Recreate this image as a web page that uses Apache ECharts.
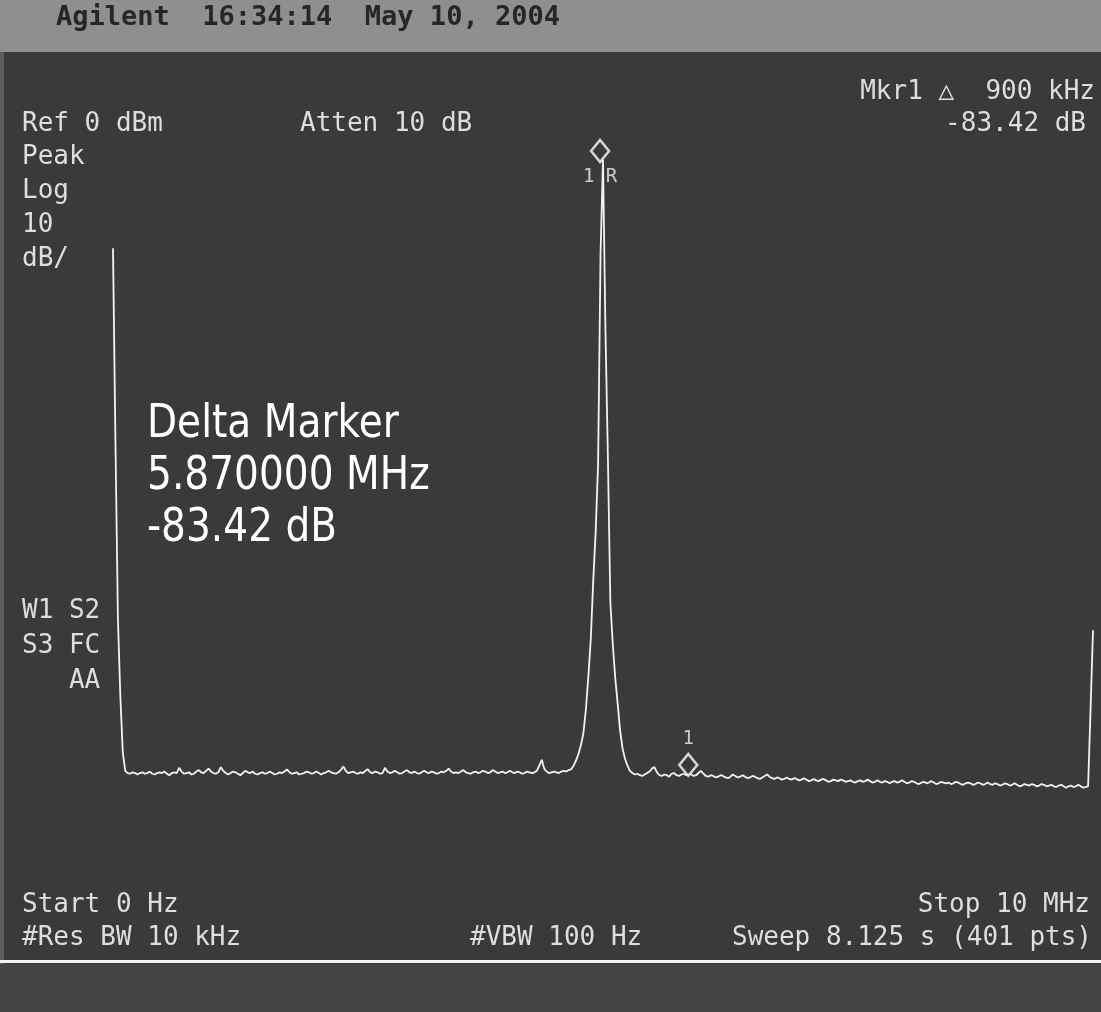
<!DOCTYPE html>
<html>
<head>
<meta charset="utf-8">
<title>Agilent spectrum trace</title>
<script src="https://cdn.jsdelivr.net/npm/echarts/dist/echarts.min.js"></script>
<style>
  html, body { margin: 0; padding: 0; background: #3a3a3a; }
  #chart { width: 1101px; height: 1012px; }
</style>
</head>
<body>
<div id="chart"></div>
<script>
// Sweep settings
const startMHz = 0;
const stopMHz = 10;
const sweepPoints = 401;
const refLevelDbm = 0;
const dbPerDiv = 10;
const divisions = 10;

// Trace amplitude, dBm, one value per sweep point (25 kHz apart)
const traceDbm = [
  -14.3, -40.6, -64.5, -75.2, -82.8, -85.3, -85.6, -85.7, -85.5, -85.6, -85.8, -85.6, -85.5, -85.7, -85.6, -85.4, -85.7, -85.8, -85.6, -85.5,
  -85.6, -85.4, -85.7, -85.9, -85.6, -85.5, -85.6, -84.9, -85.4, -85.7, -85.6, -85.5, -85.8, -85.7, -85.4, -85.2, -85.5, -85.6, -85.3, -85.0,
  -85.4, -85.6, -85.7, -85.5, -84.8, -85.3, -85.6, -85.8, -85.6, -85.4, -85.5, -85.7, -85.9, -85.6, -85.3, -85.5, -85.6, -85.4, -85.7, -85.8,
  -85.6, -85.5, -85.7, -85.6, -85.4, -85.6, -85.8, -85.7, -85.5, -85.6, -85.4, -85.1, -85.5, -85.7, -85.6, -85.5, -85.8, -85.7, -85.6, -85.4,
  -85.5, -85.7, -85.6, -85.4, -85.6, -85.8, -85.6, -85.5, -85.3, -85.5, -85.6, -85.7, -85.5, -85.2, -84.7, -85.3, -85.6, -85.5, -85.4, -85.6,
  -85.7, -85.5, -85.6, -85.3, -85.1, -85.5, -85.6, -85.4, -85.5, -85.7, -85.6, -84.9, -85.4, -85.6, -85.5, -85.3, -85.5, -85.7, -85.6, -85.4,
  -85.2, -85.5, -85.6, -85.4, -85.6, -85.7, -85.5, -85.3, -85.5, -85.6, -85.4, -85.5, -85.7, -85.6, -85.4, -85.5, -85.3, -85.0, -85.4, -85.6,
  -85.5, -85.6, -85.4, -85.2, -85.5, -85.6, -85.7, -85.5, -85.4, -85.6, -85.5, -85.3, -85.4, -85.6, -85.5, -85.2, -85.4, -85.6, -85.5, -85.4,
  -85.6, -85.5, -85.3, -85.5, -85.6, -85.4, -85.5, -85.7, -85.6, -85.4, -85.5, -85.6, -85.5, -85.3, -84.6, -83.8, -85.0, -85.4, -85.6, -85.5,
  -85.4, -85.5, -85.6, -85.4, -85.3, -85.4, -85.2, -85.1, -84.6, -83.9, -83.0, -81.8, -80.2, -77.0, -72.6, -67.5, -59.6, -52.9, -43.5, -15.0,
  -2.3, -25.4, -42.7, -62.4, -68.1, -72.7, -76.2, -79.9, -82.3, -83.7, -84.6, -85.3, -85.6, -85.8, -85.7, -85.9, -86.0, -85.8, -85.6, -85.4,
  -85.0, -84.8, -85.5, -85.9, -86.0, -85.8, -85.9, -86.1, -85.7, -85.6, -85.9, -86.0, -85.8, -85.7, -85.9, -85.72, -85.8, -86.0, -85.9, -85.6,
  -85.3, -85.7, -86.0, -86.1, -85.9, -86.0, -86.2, -86.1, -85.9, -86.0, -86.2, -86.3, -86.1, -85.8, -86.0, -86.2, -86.1, -85.9, -86.1, -86.3,
  -86.2, -86.0, -86.1, -86.3, -86.4, -86.2, -86.0, -85.8, -86.1, -86.3, -86.4, -86.2, -86.3, -86.5, -86.4, -86.2, -86.4, -86.5, -86.3, -86.4,
  -86.6, -86.5, -86.3, -86.5, -86.7, -86.6, -86.4, -86.6, -86.7, -86.5, -86.4, -86.6, -86.8, -86.7, -86.5, -86.6, -86.7, -86.5, -86.6, -86.8,
  -86.7, -86.6, -86.8, -86.9, -86.7, -86.6, -86.8, -86.7, -86.5, -86.7, -86.9, -86.8, -86.6, -86.8, -86.9, -86.7, -86.8, -87.0, -86.8, -86.7,
  -86.9, -86.8, -86.6, -86.8, -87.0, -86.9, -86.7, -86.8, -87.0, -87.1, -86.9, -86.8, -87.0, -86.9, -86.7, -86.9, -87.1, -87.0, -86.8, -86.9,
  -87.0, -86.9, -87.1, -87.0, -86.8, -86.9, -87.1, -87.2, -87.0, -86.9, -87.0, -87.2, -87.1, -86.9, -87.0, -87.2, -87.1, -86.9, -87.1, -87.2,
  -87.0, -87.1, -87.3, -87.2, -87.0, -87.1, -87.3, -87.2, -87.0, -87.2, -87.4, -87.3, -87.1, -87.2, -87.3, -87.1, -87.2, -87.4, -87.3, -87.1,
  -87.2, -87.4, -87.3, -87.2, -87.4, -87.5, -87.3, -87.2, -87.4, -87.6, -87.4, -87.3, -87.5, -87.4, -87.2, -87.4, -87.6, -87.5, -87.4, -77.0,
  -66.2
];

// Markers: reference (1R) and delta (1)
const markerFreqMHz = [4.97, 5.87];
const markerRefDbm = -2.3;
const markerDeltaDb = -83.42;
const markerNames = ['1 R', '1'];

// Screen annotations
const headerText = 'Agilent  16:34:14  May 10, 2004';
const leftColumn = ['Peak', 'Log', '10', 'dB/'];
const statusColumn = ['W1 S2', 'S3 FC', '   AA'];
const deltaReadout = ['Delta Marker', '5.870000 MHz', '-83.42 dB'];

const stepMHz = (stopMHz - startMHz) / (sweepPoints - 1);
const tracePoints = traceDbm.map((v, i) => [startMHz + i * stepMHz, v]);
const markerLevels = [markerRefDbm, markerRefDbm + markerDeltaDb];

const MONO = '"DejaVu Sans Mono", monospace';
const annoColor = '#dedede';

function anno(text, x, y, align, size, color, weight) {
  return {
    type: 'text',
    x: x, y: y,
    silent: true,
    style: {
      x: 0, y: 0,
      text: text,
      fill: color || annoColor,
      font: (weight || 'normal') + ' ' + (size || 26) + 'px ' + MONO,
      textAlign: align || 'left',
      textVerticalAlign: 'middle'
    }
  };
}

const graphics = [
  { type: 'rect', shape: { x: 0, y: 0, width: 1101, height: 52 }, style: { fill: '#8f8f8f' }, silent: true, z: -1 },
  { type: 'rect', shape: { x: 0, y: 52, width: 4, height: 960 }, style: { fill: '#5c5c5c' }, silent: true, z: -1 },
  { type: 'rect', shape: { x: 0, y: 964, width: 1101, height: 48 }, style: { fill: '#444444' }, silent: true, z: -1 },
  { type: 'rect', shape: { x: 0, y: 960, width: 1101, height: 3 }, style: { fill: '#f4f4f4' }, silent: true },
  anno(headerText, 56, 18, 'left', 27, '#262626', 'bold'),
  anno('Ref ' + refLevelDbm + ' dBm', 22, 124),
  anno('Atten 10 dB', 300, 124),
  anno('Mkr1 \u25B3  900 kHz', 1095, 92, 'right'),
  anno(markerDeltaDb.toFixed(2) + ' dB', 1086, 124, 'right'),
  anno('Start ' + startMHz + ' Hz', 22, 905),
  anno('Stop ' + stopMHz + ' MHz', 1090, 905, 'right'),
  anno('#Res BW 10 kHz', 22, 938),
  anno('#VBW 100 Hz', 470, 938),
  anno('Sweep 8.125 s (' + sweepPoints + ' pts)', 1092, 938, 'right')
];
leftColumn.forEach((t, i) => graphics.push(anno(t, 22, 157 + i * 34)));
statusColumn.forEach((t, i) => graphics.push(anno(t, 22, 611 + i * 35)));
deltaReadout.forEach((t, i) => graphics.push({
  type: 'text',
  x: 147, y: 425 + i * 52,
  scaleX: 0.85,
  silent: true,
  style: {
    x: 0, y: 0,
    text: t,
    fill: '#ffffff',
    font: '46px "DejaVu Sans", sans-serif',
    textAlign: 'left',
    textVerticalAlign: 'middle'
  }
}));

const chart = echarts.init(document.getElementById('chart'), null, { renderer: 'canvas' });
chart.setOption({
  backgroundColor: '#3a3a3a',
  animation: false,
  grid: { left: 113, right: 8, top: 143, bottom: 133 },
  xAxis: {
    type: 'value', min: startMHz, max: stopMHz,
    axisLine: { show: false }, axisTick: { show: false },
    axisLabel: { show: false }, splitLine: { show: false }
  },
  yAxis: {
    type: 'value', min: refLevelDbm - dbPerDiv * divisions, max: refLevelDbm,
    interval: dbPerDiv,
    axisLine: { show: false }, axisTick: { show: false },
    axisLabel: { show: false }, splitLine: { show: false }
  },
  graphic: graphics,
  series: [
    {
      type: 'line',
      data: tracePoints,
      showSymbol: false,
      clip: false,
      lineStyle: { color: '#f2f2f2', width: 1.8 },
      z: 3
    },
    {
      type: 'scatter',
      symbol: 'diamond',
      symbolSize: [18, 22],
      symbolOffset: [0, -9],
      itemStyle: { color: '#3a3a3a', borderColor: '#ffffff', borderWidth: 2.5 },
      z: 4,
      data: markerFreqMHz.map((f, i) => ({
        value: [f, markerLevels[i]],
        label: {
          show: true,
          formatter: markerNames[i],
          position: i === 0 ? 'bottom' : 'top',
          distance: i === 0 ? 4 : 4,
          color: '#f0f0f0',
          fontFamily: 'DejaVu Sans Mono',
          fontSize: 19
        }
      }))
    }
  ]
});
</script>
</body>
</html>
